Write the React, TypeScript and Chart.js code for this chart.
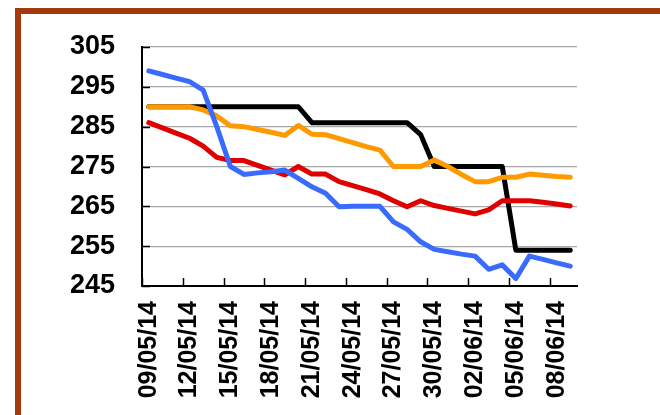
import React, { useEffect, useRef } from "react";
import { Chart, registerables } from "chart.js";

Chart.register(...registerables);

const dates = [
  "09/05/14", "10/05/14", "11/05/14", "12/05/14", "13/05/14", "14/05/14", "15/05/14", "16/05/14",
  "17/05/14", "18/05/14", "19/05/14", "20/05/14", "21/05/14", "22/05/14", "23/05/14", "24/05/14",
  "25/05/14", "26/05/14", "27/05/14", "28/05/14", "29/05/14", "30/05/14", "31/05/14", "01/06/14",
  "02/06/14", "03/06/14", "04/06/14", "05/06/14", "06/06/14", "07/06/14", "08/06/14", "09/06/14",
];

const blackSeries = [
  290, 290, 290, 290, 290, 290, 290, 290, 290, 290, 290, 290, 286, 286, 286, 286,
  286, 286, 286, 286, 283, 275, 275, 275, 275, 275, 275, 254, 254, 254, 254, 254,
];
const orangeSeries = [
  290, 290, 290, 290, 289.2, 287.7, 285.2, 285, 284.3, 283.6, 282.8, 285.3, 283.1, 283, 282, 281,
  280, 279.1, 275, 275, 275, 276.6, 275, 273, 271.2, 271.2, 272.3, 272.3, 273.1, 272.8, 272.5, 272.3,
];
const redSeries = [
  286, 284.7, 283.4, 282.1, 280.1, 277.3, 276.5, 276.5, 275.3, 274.1, 272.9, 275, 273.1, 273.1, 271.2, 270.2,
  269.2, 268.1, 266.4, 264.9, 266.4, 265.2, 264.5, 263.8, 263.1, 264.1, 266.4, 266.4, 266.4, 266, 265.6, 265.1,
];
const blueSeries = [
  299, 298.1, 297.2, 296.3, 294.2, 285, 275, 273, 273.4, 273.7, 274.1, 272, 269.9, 268.3, 264.9, 265,
  265, 265, 261.1, 259.2, 256.1, 254.2, 253.6, 253, 252.5, 249.2, 250.3, 246.9, 252.5, 251.7, 250.8, 250,
];

const yMin = 245;
const yMax = 305;
const yStep = 10;

const FONT = "'Liberation Sans', Arial, sans-serif";

const innerTicks = {
  id: "innerTicks",
  afterDraw(chart: any) {
    const ctx = chart.ctx;
    const xs = chart.scales.x;
    const ys = chart.scales.y;
    const area = chart.chartArea;
    ctx.save();
    ctx.strokeStyle = "#000";
    ctx.lineWidth = 1.5;
    const half = (xs.getPixelForValue(1) - xs.getPixelForValue(0)) / 2;
    for (let i = 0; i < dates.length; i += 3) {
      const px = Math.round(xs.getPixelForValue(i) - half) + 0.5;
      ctx.beginPath();
      ctx.moveTo(px, area.bottom);
      ctx.lineTo(px, area.bottom - 8);
      ctx.stroke();
    }
    for (let v = yMin; v <= yMax; v += yStep) {
      const py = Math.round(ys.getPixelForValue(v)) + 0.5;
      ctx.beginPath();
      ctx.moveTo(area.left, py);
      ctx.lineTo(area.left + 8, py);
      ctx.stroke();
    }
    ctx.restore();
  },
};

export default function App() {
  const ref = useRef<HTMLCanvasElement>(null);
  useEffect(() => {
    document.body.style.margin = "0";
    document.body.style.overflow = "hidden";
    const lineDs = (data: number[], color: string) => ({
      data,
      borderColor: color,
      backgroundColor: color,
      borderWidth: 5,
      pointRadius: 0,
      tension: 0,
      borderJoinStyle: "round" as const,
      borderCapStyle: "round" as const,
      fill: false,
    });
    const chart = new Chart(ref.current!, {
      type: "line",
      data: {
        labels: dates,
        datasets: [
          lineDs(blueSeries, "#3A6BFF"),
          lineDs(redSeries, "#E00000"),
          lineDs(orangeSeries, "#FF9900"),
          lineDs(blackSeries, "#000000"),
        ],
      },
      options: {
        animation: false,
        responsive: false,
        maintainAspectRatio: false,
        layout: { padding: { left: 0, right: 83, top: 47, bottom: 0 } },
        plugins: { legend: { display: false }, tooltip: { enabled: false } },
        scales: {
          x: {
            type: "category",
            offset: true,
            grid: { display: false, drawTicks: false },
            border: { display: true, color: "#000", width: 2 },
            ticks: {
              autoSkip: false,
              maxRotation: 90,
              minRotation: 90,
              padding: 15,
              color: "#000",
              font: { family: FONT, size: 25, weight: "bold" },
              callback: (_v: any, i: number) => (i % 3 === 0 ? dates[i] : ""),
            },
            afterFit: (s: any) => {
              s.height = 129;
            },
          },
          y: {
            min: yMin,
            max: yMax,
            grid: { color: "#A8A8A8", lineWidth: 1.2, drawTicks: false },
            border: { display: true, color: "#000", width: 2 },
            ticks: {
              stepSize: yStep,
              padding: 27,
              color: "#000",
              font: { family: FONT, size: 27, weight: "bold" },
            },
            afterFit: (s: any) => {
              s.width = 142;
            },
          },
        },
      },
      plugins: [innerTicks],
    });
    return () => chart.destroy();
  }, []);
  return (
    <div>
      <div
        style={{
          position: "fixed",
          left: 15,
          top: 8,
          width: 645,
          height: 407,
          boxSizing: "border-box",
          borderLeft: "6px solid #A3390C",
          borderTop: "6px solid #A3390C",
          background: "#fff",
        }}
      />
      <canvas
        ref={ref}
        width={660}
        height={415}
        style={{ position: "fixed", left: 0, top: 0, width: 660, height: 415 }}
      />
    </div>
  );
}
